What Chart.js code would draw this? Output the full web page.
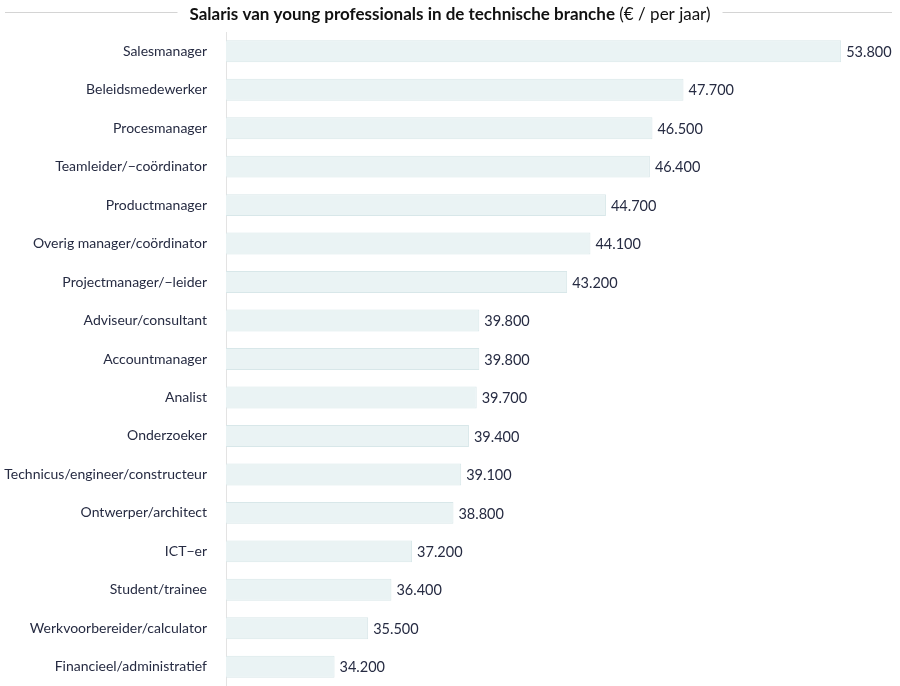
<!DOCTYPE html>
<html>
<head>
<meta charset="utf-8">
<script src="https://cdn.jsdelivr.net/npm/chart.js@4"></script>
<style>
  html, body { margin: 0; padding: 0; background: #fff; }
  #wrap { width: 900px; height: 686px; position: relative; }
</style>
</head>
<body>
<div id="wrap"><canvas id="chart"></canvas></div>
<script>
  const titleBold = "Salaris van young professionals in de technische branche";
  const titleNormal = " (€ / per jaar)";

  const categories = [
    "Salesmanager",
    "Beleidsmedewerker",
    "Procesmanager",
    "Teamleider/−coördinator",
    "Productmanager",
    "Overig manager/coördinator",
    "Projectmanager/−leider",
    "Adviseur/consultant",
    "Accountmanager",
    "Analist",
    "Onderzoeker",
    "Technicus/engineer/constructeur",
    "Ontwerper/architect",
    "ICT−er",
    "Student/trainee",
    "Werkvoorbereider/calculator",
    "Financieel/administratief"
  ];

  const salaries = [
    53800, 47700, 46500, 46400, 44700, 44100, 43200, 39800, 39800,
    39700, 39400, 39100, 38800, 37200, 36400, 35500, 34200
  ];

  const axisMin = 30000;
  const axisMax = 56000;

  const fontFamily = "Lato, 'Open Sans', sans-serif";
  const textColor = "#262b42";

  function formatEuro(value) {
    return String(value).replace(/\B(?=(\d{3})+(?!\d))/g, ".");
  }

  // Title with thin rules on both sides
  const titlePlugin = {
    id: "lineTitle",
    afterDraw(chart) {
      const ctx = chart.ctx;
      const y = 15;
      ctx.save();
      ctx.textBaseline = "middle";
      ctx.font = "bold 17px " + fontFamily;
      const wBold = ctx.measureText(titleBold).width;
      ctx.font = "17px " + fontFamily;
      const wNormal = ctx.measureText(titleNormal).width;
      const total = wBold + wNormal;
      const x0 = 450 - total / 2;

      ctx.fillStyle = "#111";
      ctx.textAlign = "left";
      ctx.font = "bold 17px " + fontFamily;
      ctx.fillText(titleBold, x0, y);
      ctx.font = "17px " + fontFamily;
      ctx.fillText(titleNormal, x0 + wBold, y);

      ctx.strokeStyle = "#d4d4d4";
      ctx.lineWidth = 1;
      ctx.beginPath();
      ctx.moveTo(5, y - 2.5);
      ctx.lineTo(x0 - 12, y - 2.5);
      ctx.moveTo(x0 + total + 12, y - 2.5);
      ctx.lineTo(892, y - 2.5);
      ctx.stroke();
      ctx.restore();
    }
  };

  // Value labels at the end of each bar
  const valueLabels = {
    id: "valueLabels",
    afterDatasetsDraw(chart) {
      const ctx = chart.ctx;
      const meta = chart.getDatasetMeta(0);
      ctx.save();
      ctx.font = "14.5px " + fontFamily;
      ctx.fillStyle = textColor;
      ctx.textAlign = "left";
      ctx.textBaseline = "middle";
      meta.data.forEach((bar, i) => {
        ctx.fillText(formatEuro(salaries[i]), bar.x + 5, bar.y + 1);
      });
      ctx.restore();
    }
  };

  new Chart(document.getElementById("chart"), {
    type: "bar",
    data: {
      labels: categories,
      datasets: [
        {
          data: salaries,
          backgroundColor: "#eaf3f4",
          borderColor: "#d8e7e9",
          borderWidth: 1,
          borderSkipped: "left",
          barPercentage: 0.57,
          categoryPercentage: 1
        }
      ]
    },
    options: {
      indexAxis: "y",
      responsive: true,
      maintainAspectRatio: false,
      animation: false,
      layout: {
        padding: { top: 32, right: 2, bottom: 0, left: 0 }
      },
      plugins: {
        legend: { display: false },
        tooltip: { enabled: false }
      },
      scales: {
        x: {
          display: false,
          min: axisMin,
          max: axisMax
        },
        y: {
          grid: { display: false },
          border: { display: true, color: "#e3e3e3" },
          afterFit(scale) {
            scale.width = 226;
            // let the category band run to the bottom edge
            scale.paddingTop = 0;
            scale.paddingBottom = 0;
          },
          ticks: {
            color: textColor,
            padding: 11,
            font: { family: fontFamily, size: 14 }
          }
        }
      }
    },
    plugins: [titlePlugin, valueLabels]
  });
</script>
</body>
</html>
